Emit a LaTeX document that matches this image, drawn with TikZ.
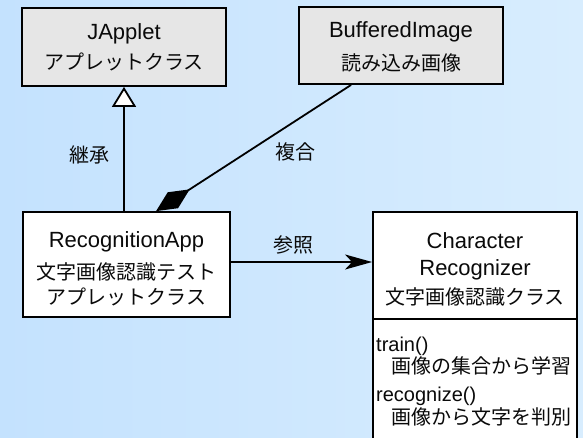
\documentclass[tikz,border=0pt]{standalone}
\usepackage{fontspec}
\setmainfont{Liberation Sans}
\newfontfamily\cjk{Noto Sans CJK JP}
\usetikzlibrary{arrows.meta}
\definecolor{bgl}{RGB}{196,226,254}
\definecolor{bgr}{RGB}{216,237,254}
\definecolor{boxgrey}{RGB}{230,230,230}
\definecolor{ink}{RGB}{10,10,10}
\tikzset{
  box/.style={draw=black, line width=1.8pt, rectangle, inner sep=0pt},
  greybox/.style={box, fill=boxgrey},
  whitebox/.style={box, fill=white},
  lt/.style={font=\fontsize{22}{26}\selectfont, text=ink, anchor=base, inner sep=0pt},
  mt/.style={font=\fontsize{20}{24}\selectfont, text=ink, anchor=base west, inner sep=0pt},
  jp/.style={font=\cjk\fontsize{20}{24}\selectfont, text=ink, anchor=base, inner sep=0pt},
  jpw/.style={jp, anchor=base west},
  lbl/.style={font=\cjk\fontsize{20}{24}\selectfont, text=ink, inner sep=0pt},
  conn/.style={draw=black, line width=1.8pt},
}
\begin{document}
\begin{tikzpicture}[x=1pt,y=-1pt]
\useasboundingbox (0,0) rectangle (583,437);
\shade[left color=bgl, right color=bgr] (0,0) rectangle (583,437);
\clip (0,0) rectangle (583,437);

% boxes
\node[greybox, minimum width=204pt, minimum height=78pt] (ja) at (124,47) {};
\node[greybox, minimum width=204pt, minimum height=77pt] (bi) at (401,45.5) {};
\node[whitebox, minimum width=207pt, minimum height=105pt] (ra) at (126.5,264.5) {};
\node[whitebox, minimum width=204pt, minimum height=107pt] (cr) at (475,265.5) {};
\node[whitebox, minimum width=204pt, minimum height=130pt] (crm) at (475,384) {};

% texts
\node[lt] (ja1) at (124,39.5) {JApplet};
\node[jp] (ja2) at (124,69.5) {アプレットクラス};
\node[lt] (bi1) at (401,37.5) {BufferedImage};
\node[jp] (bi2) at (401,70.5) {読み込み画像};
\node[lt] (ra1) at (126.5,247) {RecognitionApp};
\node[jp] (ra2) at (126.5,279.5) {文字画像認識テスト};
\node[jp] (ra3) at (126.5,304.5) {アプレットクラス};
\node[lt] (cr1) at (475,248) {Character};
\node[lt] (cr2) at (475,275) {Recognizer};
\node[jp] (cr3) at (475,304.5) {文字画像認識クラス};
\node[mt] (m1) at (376,351) {train()};
\node[jpw] (m2) at (391,373.5) {画像の集合から学習};
\node[mt] (m3) at (376,401) {recognize()};
\node[jpw] (m4) at (391,424.5) {画像から文字を判別};

% connectors
\draw[conn, -{Triangle[length=20pt, width=24pt, fill=white]}] (ra.north -| ja.south) -- (ja.south);
\draw[conn, {Diamond[length=40pt, width=19pt, fill=black]}-] ([xshift=134pt]ra.north west) -- ([xshift=53pt]bi.south west);
\draw[conn, -{Stealth[length=27pt, width=15pt, inset=7pt]}] ([yshift=2.5pt]ra.east) -- ([yshift=2.5pt]ra.east -| cr.west);

% labels
\node[lbl] (l1) at (89,154.5) {継承};
\node[lbl] (l2) at (295,152) {複合};
\node[lbl] (l3) at (293,245) {参照};
\end{tikzpicture}
\end{document}
